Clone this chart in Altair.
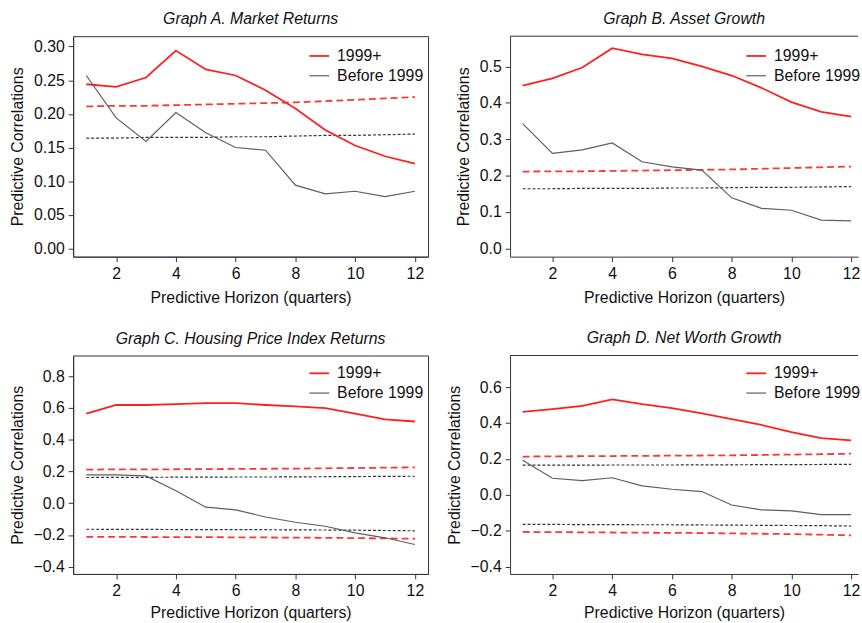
import altair as alt
import pandas as pd

FONT = "Liberation Sans"

horizon = list(range(1, 13))
series_names = ["1999+", "Before 1999"]
x_ticks = [2, 4, 6, 8, 10, 12]
x_title = "Predictive Horizon (quarters)"
y_title = "Predictive Correlations"

titles = [
    "Graph A. Market Returns",
    "Graph B. Asset Growth",
    "Graph C. Housing Price Index Returns",
    "Graph D. Net Worth Growth",
]

# Graph A
a_post = [0.244, 0.240, 0.254, 0.294, 0.266, 0.257, 0.235, 0.208, 0.176, 0.153, 0.137, 0.126]
a_pre = [0.257, 0.194, 0.159, 0.202, 0.172, 0.150, 0.146, 0.094, 0.081, 0.085, 0.077, 0.085]
a_post_hi = [0.211, 0.212, 0.212, 0.213, 0.214, 0.215, 0.216, 0.217, 0.219, 0.221, 0.223, 0.225]
a_pre_hi = [0.164, 0.164, 0.165, 0.165, 0.165, 0.166, 0.166, 0.167, 0.168, 0.168, 0.169, 0.170]

# Graph B
b_post = [0.447, 0.467, 0.497, 0.550, 0.533, 0.522, 0.500, 0.475, 0.441, 0.402, 0.375, 0.362]
b_pre = [0.343, 0.261, 0.271, 0.290, 0.238, 0.224, 0.215, 0.139, 0.110, 0.105, 0.078, 0.076]
b_post_hi = [0.211, 0.212, 0.212, 0.213, 0.214, 0.215, 0.216, 0.217, 0.219, 0.221, 0.223, 0.225]
b_pre_hi = [0.164, 0.164, 0.165, 0.165, 0.165, 0.166, 0.166, 0.167, 0.168, 0.168, 0.169, 0.170]

# Graph C
c_post = [0.565, 0.619, 0.619, 0.625, 0.631, 0.631, 0.619, 0.610, 0.600, 0.565, 0.529, 0.515]
c_pre = [0.179, 0.179, 0.172, 0.079, -0.025, -0.042, -0.087, -0.120, -0.145, -0.187, -0.218, -0.260]
c_post_hi = [0.212, 0.213, 0.213, 0.214, 0.215, 0.216, 0.217, 0.218, 0.220, 0.222, 0.224, 0.226]
c_post_lo = [-0.212, -0.212, -0.213, -0.214, -0.214, -0.215, -0.216, -0.217, -0.218, -0.220, -0.222, -0.224]
c_pre_hi = [0.162, 0.163, 0.163, 0.164, 0.164, 0.165, 0.165, 0.166, 0.167, 0.168, 0.169, 0.170]
c_pre_lo = [-0.164, -0.165, -0.165, -0.166, -0.166, -0.167, -0.167, -0.168, -0.169, -0.170, -0.172, -0.174]

# Graph D
d_post = [0.462, 0.477, 0.495, 0.532, 0.505, 0.483, 0.453, 0.422, 0.389, 0.349, 0.316, 0.303]
d_pre = [0.193, 0.092, 0.079, 0.095, 0.050, 0.031, 0.018, -0.057, -0.084, -0.090, -0.110, -0.110]
d_post_hi = [0.213, 0.214, 0.215, 0.216, 0.217, 0.218, 0.219, 0.220, 0.222, 0.224, 0.226, 0.229]
d_post_lo = [-0.207, -0.208, -0.209, -0.210, -0.211, -0.212, -0.213, -0.215, -0.217, -0.219, -0.222, -0.226]
d_pre_hi = [0.165, 0.165, 0.165, 0.166, 0.166, 0.166, 0.167, 0.167, 0.168, 0.168, 0.169, 0.169]
d_pre_lo = [-0.165, -0.165, -0.166, -0.166, -0.167, -0.167, -0.168, -0.169, -0.170, -0.171, -0.172, -0.174]

y_ticks_a = [0.0, 0.05, 0.10, 0.15, 0.20, 0.25, 0.30]
y_ticks_b = [0.0, 0.1, 0.2, 0.3, 0.4, 0.5]
y_ticks_c = [-0.4, -0.2, 0.0, 0.2, 0.4, 0.6, 0.8]
y_ticks_d = [-0.4, -0.2, 0.0, 0.2, 0.4, 0.6]

RED = "#ff1f1f"
GRAY = "#5e5e5e"
DARK = "#333333"


def panel(title, post, pre, red_bands, black_bands, ydom, yticks, yfmt, xdom,
          w, h, framed, legend_y, xtitle_pad):
    solid_df = pd.DataFrame({
        "h": horizon * 2,
        "v": post + pre,
        "s": [series_names[0]] * 12 + [series_names[1]] * 12,
    })
    red_df = pd.DataFrame({
        "h": horizon * len(red_bands),
        "v": sum(red_bands, []),
        "b": sum([[i] * 12 for i in range(len(red_bands))], []),
    })
    blk_df = pd.DataFrame({
        "h": horizon * len(black_bands),
        "v": sum(black_bands, []),
        "b": sum([[i] * 12 for i in range(len(black_bands))], []),
    })
    x = alt.X("h:Q", scale=alt.Scale(domain=xdom, nice=False, zero=False),
              axis=alt.Axis(values=x_ticks, title=x_title, grid=False,
                            labelFlush=False, labelOverlap=False,
                            titlePadding=xtitle_pad))
    y = alt.Y("v:Q", scale=alt.Scale(domain=ydom, nice=False, zero=False),
              axis=alt.Axis(values=yticks, format=yfmt, title=y_title, grid=False,
                            labelOverlap=False))
    red = alt.Chart(red_df).mark_line(color=RED, strokeWidth=1.8, strokeDash=[7, 4],
                                      opacity=0.9).encode(x=x, y=y, detail="b:N")
    blk = alt.Chart(blk_df).mark_line(color=DARK, strokeWidth=1.2, strokeDash=[3, 2]).encode(
        x=x, y=y, detail="b:N")
    solid = alt.Chart(solid_df).mark_line().encode(
        x=x, y=y,
        color=alt.Color("s:N",
                        scale=alt.Scale(domain=series_names, range=[RED, GRAY]),
                        legend=alt.Legend(orient="none", legendX=238, legendY=legend_y,
                                          title=None, symbolType="stroke", symbolSize=400,
                                          symbolStrokeWidth=1.5, labelFontSize=16,
                                          labelFont=FONT, labelColor="#111",
                                          labelOffset=7, rowPadding=1, padding=0)),
        strokeWidth=alt.StrokeWidth("s:N", scale=alt.Scale(domain=series_names, range=[1.8, 1.2]),
                                    legend=None),
    )
    layers = [blk, red, solid]
    view = alt.ViewBackground(stroke=DARK, strokeWidth=1)
    if not framed:
        top = alt.Chart(pd.DataFrame({"k": [0]})).mark_rule(
            color=DARK, strokeWidth=1).encode(y=alt.value(0))
        layers = [top] + layers
        view = alt.ViewBackground(stroke="transparent")
    return alt.layer(*layers).properties(
        width=w, height=h, view=view,
        title=alt.TitleParams(title, fontStyle="italic", fontWeight="normal", fontSize=16,
                              font=FONT, color="#111", offset=9, anchor="middle"),
    )


pA = panel(titles[0], a_post, a_pre, [a_post_hi], [a_pre_hi], [-0.0122, 0.3154],
           y_ticks_a, ".2f", [0.56, 12.44], 359, 223, True, 9, 8)
pB = panel(titles[1], b_post, b_pre, [b_post_hi], [b_pre_hi], [-0.0225, 0.583],
           y_ticks_b, ".1f", [0.58, 12.232], 352, 223, False, 9, 8)
pC = panel(titles[2], c_post, c_pre, [c_post_hi, c_post_lo], [c_pre_hi, c_pre_lo],
           [-0.446, 0.931], y_ticks_c, ".1f", [0.56, 12.44], 359, 221, True, 7, 6)
pD = panel(titles[3], d_post, d_pre, [d_post_hi, d_post_lo], [d_pre_hi, d_pre_lo],
           [-0.441, 0.776], y_ticks_d, ".1f", [0.58, 12.232], 352, 221, False, 7, 6)

chart = alt.concat(pA, pB, pC, pD, columns=2, spacing={"row": 24, "column": 16}).resolve_scale(
    color="independent", strokeWidth="independent"
).properties(
    padding={"left": 8, "top": 7, "right": 0, "bottom": 0},
    background="white",
).configure_axis(
    labelFont=FONT, titleFont=FONT, labelFontSize=16, titleFontSize=16,
    labelColor="#111", titleColor="#111", titleFontWeight="normal",
    domainColor=DARK, tickColor=DARK, tickSize=5, labelPadding=4, titlePadding=8,
).configure_view(strokeWidth=1)

chart.save("out.html", embed_options={"renderer": "svg", "actions": False})
